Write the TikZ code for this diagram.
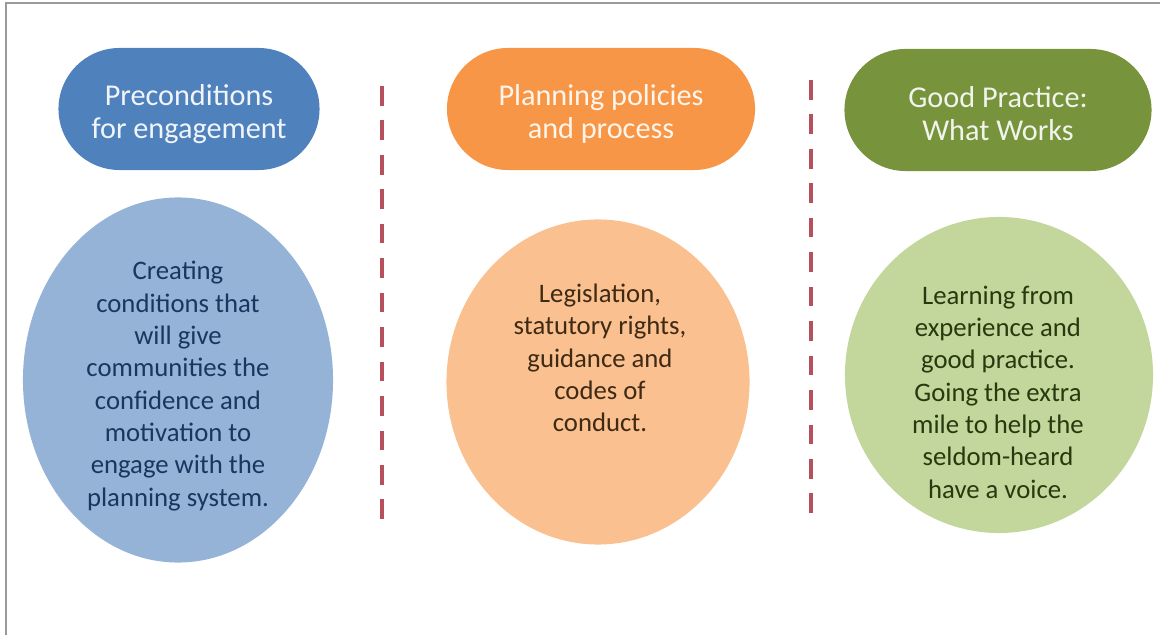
\documentclass[tikz,border=0pt]{standalone}
\usepackage{fontspec}
\setmainfont{Carlito}
\usetikzlibrary{positioning,shapes.geometric,shapes.misc}
\definecolor{pillblue}{HTML}{4F81BD}
\definecolor{ovalblue}{HTML}{95B3D7}
\definecolor{pillorange}{HTML}{F79646}
\definecolor{ovalorange}{HTML}{FAC090}
\definecolor{pillgreen}{HTML}{77933C}
\definecolor{ovalgreen}{HTML}{C3D69B}
\definecolor{textnavy}{HTML}{17375E}
\definecolor{textbrown}{HTML}{3F2A14}
\definecolor{textgreen}{HTML}{253A0E}
\definecolor{sepred}{HTML}{B5505C}
\definecolor{framegray}{HTML}{9A9A9A}

\begin{document}
\begin{tikzpicture}[x=0.025cm,y=-0.025cm,
      pill/.style={rounded rectangle,inner sep=0pt,minimum height=3.05cm},
      pilltext/.style={align=center,inner sep=0pt,font=\fontsize{21.5}{23.5}\selectfont},
      oval/.style={ellipse,inner sep=0pt},
      ovaltext/.style={align=center,inner sep=0pt,font=\fontsize{19}{23}\selectfont},
      sep/.style={sepred,line width=2.8pt,dash pattern=on 14pt off 10.5pt}]
    \path[use as bounding box](0,0) rectangle (1160,635);
    \draw[framegray,line width=1.6pt](6,636)--(6,3)--(1161,3);
    % header pills
    \node[pill,fill=pillblue,minimum width=6.525cm](p1) at (189,109) {};
    \node[pill,fill=pillorange,minimum width=7.7cm](p2) at (601,109) {};
    \node[pill,fill=pillgreen,minimum width=7.675cm](p3) at (998,110) {};
    \node[pilltext,text=white!92!pillblue](h1) at (189,114) {Preconditions\\for engagement};
    \node[pilltext,text=white!90!pillorange](h2) at (601,114) {Planning policies\\and process};
    \node[pilltext,text=white!90!pillgreen](h3) at (998,114) {Good Practice:\\What Works};
    % ovals
    \node[oval,fill=ovalblue,minimum width=7.75cm,minimum height=9.125cm](o1) at (178,380) {};
    \node[oval,fill=ovalorange,minimum width=7.575cm,minimum height=8.125cm](o2) at (598,382) {};
    \node[oval,fill=ovalgreen,minimum width=7.7cm,minimum height=7.9cm](o3) at (999,375) {};
    \node[ovaltext,text=textnavy](t1) at (178,386)
      {Creating\\conditions that\\will give\\communities the\\confidence and\\motivation to\\engage with the\\planning system.};
    \node[ovaltext,text=textbrown](t2) at (600,358)
      {Legislation,\\statutory rights,\\guidance and\\codes of\\conduct.};
    \node[ovaltext,text=textgreen](t3) at (998,392)
      {Learning from\\experience and\\good practice.\\Going the extra\\mile to help the\\seldom-heard\\have a voice.};
    % separators
    \coordinate (s1a) at (382,86);
    \coordinate (s1b) at (382,525);
    \coordinate (s2a) at (811,80);
    \coordinate (s2b) at (811,523);
    \draw[sep](s1a)--(s1b);
    \draw[sep](s2a)--(s2b);
  \end{tikzpicture}
\end{document}
